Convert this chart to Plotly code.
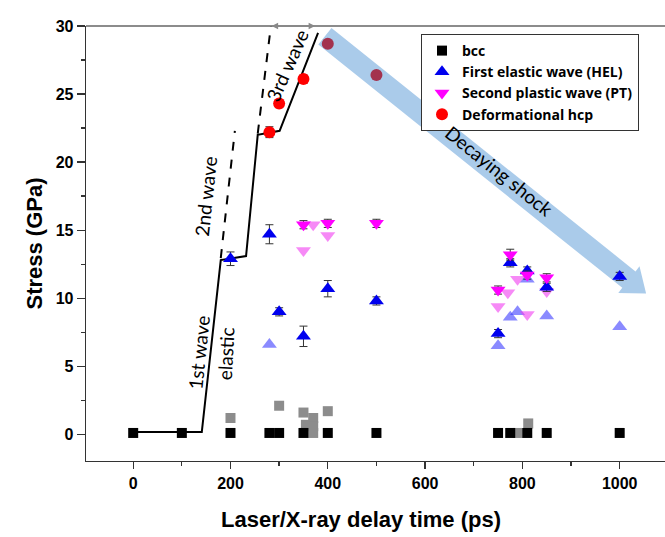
import plotly.graph_objects as go

# ---------------- data ----------------
bcc_x = [0, 100, 200, 280, 300, 350, 400, 500, 750, 775, 810, 850, 1000]
bcc_y = [0.1, 0.1, 0.1, 0.1, 0.1, 0.1, 0.1, 0.1, 0.1, 0.1, 0.1, 0.1, 0.1]

grey_x = [200, 300, 350, 355, 370, 370, 370, 400, 790, 812]
grey_y = [1.2, 2.1, 1.6, 0.7, 1.2, 0.6, 0.1, 1.7, 0.1, 0.8]

hel_x = [200, 280, 300, 350, 400, 500, 750, 775, 810, 850, 1000]
hel_y = [12.9, 14.7, 9.0, 7.2, 10.7, 9.8, 7.4, 12.6, 12.0, 10.8, 11.6]
hel_err = [0.5, 0.7, 0.3, 0.75, 0.6, 0.3, 0.3, 0.3, 0.3, 0.3, 0.3]

hel_light_x = [280, 750, 775, 790, 810, 850, 1000]
hel_light_y = [6.6, 6.5, 8.6, 9.0, 11.4, 8.7, 7.9]

pt_x = [350, 400, 500, 750, 775, 810, 850]
pt_y = [15.4, 15.5, 15.5, 10.6, 13.2, 11.7, 11.5]
pt_err = [0.3, 0.3, 0.3, 0.3, 0.4, 0.3, 0.3]

pt_light_x = [350, 370, 400, 750, 770, 790, 810, 850]
pt_light_y = [13.5, 15.4, 14.6, 9.4, 10.4, 11.4, 8.8, 10.5]

hcp_x = [280, 300, 350, 400, 500]
hcp_y = [22.2, 24.3, 26.1, 28.7, 26.4]
hcp_err = [0.4, 0.3, 0.3, 0.2, 0.2]
hcp_colors = ["#ff0000", "#ff0000", "#ff0000", "#a3324e", "#a3324e"]

# wave guide lines
wave_x = [0, 141, 180, 232, 256, 301, 380]
wave_y = [0.17, 0.17, 12.8, 13.1, 22.0, 22.3, 29.5]
dash1_x = [180, 209]
dash1_y = [12.95, 22.3]
dash2_x = [256, 283]
dash2_y = [22.1, 30.0]

# decaying shock arrow outline (data coords)
arrow_x = [407.6, 1032.5, 1040.7, 1054.3, 997.1, 1005.3, 380.5]
arrow_y = [29.85, 11.97, 12.34, 10.35, 10.39, 10.76, 28.64]

x_ticks = [0, 200, 400, 600, 800, 1000]
y_ticks = [0, 5, 10, 15, 20, 25, 30]

# ---------------- figure ----------------
fig = go.Figure()

fig.add_trace(go.Scatter(x=wave_x, y=wave_y, mode="lines",
                         line=dict(color="black", width=2), showlegend=False, hoverinfo="skip"))
fig.add_trace(go.Scatter(x=dash1_x, y=dash1_y, mode="lines",
                         line=dict(color="black", width=2, dash="dash"), showlegend=False, hoverinfo="skip"))
fig.add_trace(go.Scatter(x=dash2_x, y=dash2_y, mode="lines",
                         line=dict(color="black", width=2, dash="dash"), showlegend=False, hoverinfo="skip"))

fig.add_trace(go.Scatter(x=grey_x, y=grey_y, mode="markers",
                         marker=dict(symbol="square", size=10, color="#8c8c8c"), showlegend=False))
fig.add_trace(go.Scatter(x=bcc_x, y=bcc_y, mode="markers", name="bcc",
                         marker=dict(symbol="square", size=10, color="black")))
fig.add_trace(go.Scatter(x=hel_light_x, y=hel_light_y, mode="markers",
                         marker=dict(symbol="triangle-up", size=13, color="rgba(60,60,255,0.6)"),
                         showlegend=False))
fig.add_trace(go.Scatter(x=pt_light_x, y=pt_light_y, mode="markers",
                         marker=dict(symbol="triangle-down", size=13, color="rgba(240,60,240,0.6)"),
                         showlegend=False))
fig.add_trace(go.Scatter(x=hel_x, y=hel_y, mode="markers", name="First elastic wave (HEL)",
                         marker=dict(symbol="triangle-up", size=13, color="#0000ee"),
                         error_y=dict(type="data", array=hel_err, color="#333", thickness=1, width=4)))
fig.add_trace(go.Scatter(x=pt_x, y=pt_y, mode="markers", name="Second plastic wave (PT)",
                         marker=dict(symbol="triangle-down", size=13, color="#ff00ff"),
                         error_y=dict(type="data", array=pt_err, color="#333", thickness=1, width=4)))
fig.add_trace(go.Scatter(x=hcp_x, y=hcp_y, mode="markers", name="Deformational hcp",
                         marker=dict(symbol="circle", size=12, color=hcp_colors),
                         error_y=dict(type="data", array=hcp_err, color="#333", thickness=1, width=4)))

arrow_path = "M " + " L ".join(f"{x},{y}" for x, y in zip(arrow_x, arrow_y)) + " Z"
fig.add_shape(type="path", path=arrow_path, xref="x", yref="y",
              fillcolor="rgba(155,194,230,0.85)", line=dict(width=0), layer="below")

# plot area runs past the window's right edge, as in the (cropped) reference
PLOT_W = 720
x_max = -97 + (PLOT_W - 86) / 0.4865

# white mask over the far right strip of the plot area (hides a stray edge line)
fig.add_shape(type="rect", xref="paper", yref="paper",
              x0=(652 - 86) / (PLOT_W - 86), x1=1.0, y0=0.004, y1=0.996,
              fillcolor="white", line=dict(width=0), layer="above")
fig.add_shape(type="line", xref="paper", yref="paper", x0=0, x1=1, y0=1, y1=1,
              line=dict(color="#666", width=1.3))

txt_font = dict(family="Lato", size=19, color="black")
annots = [
    dict(text="1st wave", x=135, y=6.0, textangle=-84),
    dict(text="elastic", x=189, y=5.9, textangle=-87),
    dict(text="2nd wave", x=148, y=17.5, textangle=-84),
    dict(text="3rd wave", x=316, y=27.1, textangle=-66),
    dict(text="Decaying shock", x=752, y=19.4, textangle=38.7),
]
for a in annots:
    fig.add_annotation(x=a["x"], y=a["y"], text=a["text"], textangle=a["textangle"],
                       showarrow=False, font=txt_font, xref="x", yref="y")

fig.add_annotation(x=374, y=30, ax=281.5, ay=30, axref="x", ayref="y", xref="x", yref="y",
                   text="", showarrow=True, arrowhead=2, startarrowhead=2, arrowside="end+start",
                   arrowcolor="#888", arrowwidth=1.3, arrowsize=1, startarrowsize=1)
fig.add_annotation(x=328, y=30.95, text="120ps", showarrow=False, xref="x", yref="y",
                   font=dict(family="Lato", size=13, color="#888", weight="bold"))

axis_font = dict(family="Liberation Sans", size=16, color="black", weight="bold")
title_font = dict(family="Liberation Sans", size=22, color="black", weight="bold")

fig.add_annotation(text="Laser/X-ray delay time (ps)", xref="paper", yref="paper",
                   x=(361 - 86) / (PLOT_W - 86), y=-0.1356, xanchor="center", yanchor="middle",
                   showarrow=False, font=title_font)

fig.update_layout(
    width=PLOT_W, height=537,
    margin=dict(l=86, r=0, t=26, b=76),
    paper_bgcolor="white", plot_bgcolor="white",
    hovermode=False, dragmode=False,
    xaxis=dict(range=[-97, x_max], tickvals=x_ticks, ticks="outside", ticklen=7, tickwidth=1.3,
               tickcolor="#333", showline=True, linecolor="#333", linewidth=1.3,
               showgrid=False, zeroline=False, tickfont=axis_font, automargin=False,
               minor=dict(tickvals=[100, 300, 500, 700, 900], ticks="outside", ticklen=4,
                          tickcolor="#333", tickwidth=1.3)),
    yaxis=dict(range=[-1.96, 30], tickvals=y_ticks, ticks="outside", ticklen=8, tickwidth=1.3,
               tickcolor="#333", showline=True, linecolor="#333", linewidth=1.3,
               showgrid=False, zeroline=False, tickfont=axis_font, automargin=False,
               minor=dict(tickvals=[2.5, 7.5, 12.5, 17.5, 22.5, 27.5], ticks="outside", ticklen=4,
                          tickcolor="#333", tickwidth=1.3),
               title=dict(text="Stress (GPa)", font=title_font, standoff=7)),
    legend=dict(x=(421 - 86) / (PLOT_W - 86), y=0.9816, xanchor="left", yanchor="top",
                bordercolor="#333", borderwidth=1, bgcolor="white",
                font=dict(family="Open Sans", size=14, color="black", weight="bold"),
                tracegroupgap=0),
    showlegend=True,
)

fig.write_html("out.html", config={"displayModeBar": False, "staticPlot": True},
               post_script="document.body.style.margin='0';document.body.style.overflow='hidden';"
                           "document.documentElement.style.overflow='hidden';")
